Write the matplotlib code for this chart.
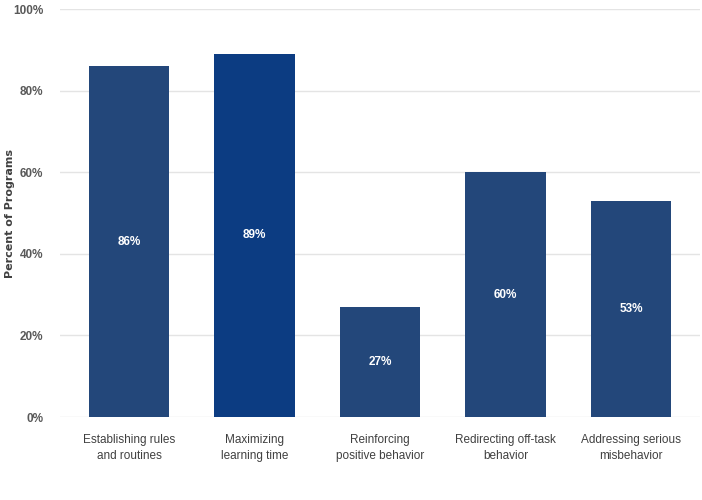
import matplotlib.pyplot as plt
from matplotlib.ticker import FuncFormatter

categories = ["Establishing rules\nand routines", "Maximizing\nlearning time",
              "Reinforcing\npositive behavior", "Redirecting off-task\nbehavior",
              "Addressing serious\nmisbehavior"]
values = [86, 89, 27, 60, 53]
colors = ["#23477a", "#0c3c82", "#23477a", "#23477a", "#23477a"]

plt.rcParams['font.family'] = ['Liberation Sans', 'DejaVu Sans']

fig = plt.figure(figsize=(7.02, 5.0), dpi=100)
ax = fig.add_axes([60 / 702, 1 - 417 / 500, 640 / 702, 408 / 500])

x = list(range(len(values)))
bars = ax.bar(x, values, width=0.64, color=colors, zorder=3)
for b, v in zip(bars, values):
    ax.text(b.get_x() + b.get_width() / 2, v / 2, "{}%".format(v), ha="center", va="center",
            color="white", fontsize=8.5, fontweight="bold", zorder=4)

ax.set_xlim(-0.55, 4.55)
ax.set_ylim(0, 100)
ax.set_yticks(range(0, 101, 20))
ax.yaxis.set_major_formatter(FuncFormatter(lambda v, p: "{:d}%".format(int(v))))
ax.set_xticks(x)
ax.set_xticklabels(categories, fontsize=8.5, color="#404040", linespacing=1.45)
for t in ax.get_yticklabels():
    t.set_fontsize(8.5)
    t.set_color("#595959")
    t.set_fontweight("bold")
ax.tick_params(axis="y", length=0, pad=12)
ax.tick_params(axis="x", length=0, pad=12)
ax.grid(axis="y", color="#e4e4e4", linewidth=1, zorder=0)
for s in ax.spines.values():
    s.set_visible(False)
ax.set_ylabel("Percent of Programs", fontsize=8, fontweight="bold", color="#404040",
              family="DejaVu Sans")
ax.yaxis.set_label_coords(-0.07, 0.5)

fig.savefig("out.png", dpi=100)
